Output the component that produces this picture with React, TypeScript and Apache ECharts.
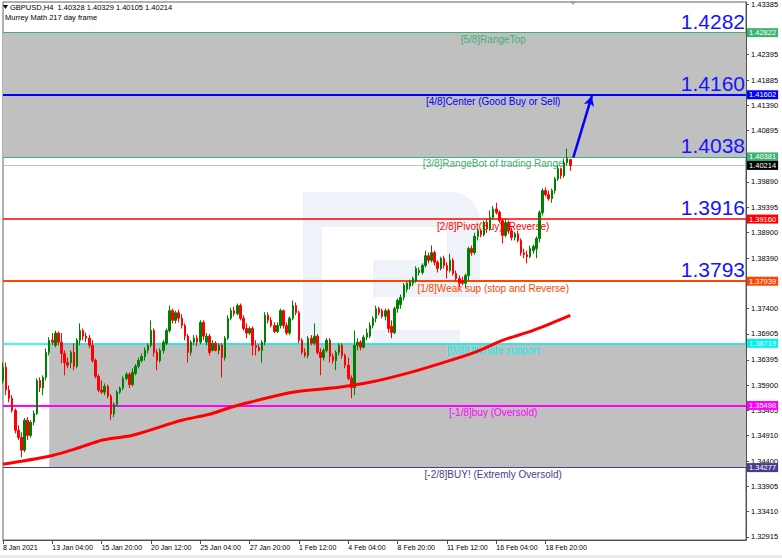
import React, { useEffect, useRef } from "react";
import * as echarts from "echarts";

const SYMBOL = "GBPUSD,H4";
const INDICATOR = "Murrey Math 217 day frame";
const FIRST_BAR_UTC = Date.UTC(2021, 0, 8, 12, 0);
const SLOT_COUNT = 242;
const LABEL_EVERY = 16;
const MONTHS = ["Jan", "Feb", "Mar", "Apr", "May", "Jun", "Jul", "Aug", "Sep", "Oct", "Nov", "Dec"];

// [open, close, low, high]
const ohlc: number[][] = [
  [1.3599, 1.3625, 1.3593, 1.3634], [1.3625, 1.3580, 1.3570, 1.3634], [1.3580, 1.3564, 1.3556, 1.3589],
  [1.3564, 1.3540, 1.3536, 1.3570], [1.3540, 1.3501, 1.3495, 1.3544], [1.3501, 1.3487, 1.3482, 1.3511],
  [1.3487, 1.3462, 1.3448, 1.3497], [1.3462, 1.3521, 1.3458, 1.3525], [1.3521, 1.3491, 1.3482, 1.3527],
  [1.3491, 1.3517, 1.3487, 1.3521], [1.3517, 1.3534, 1.3511, 1.3540], [1.3534, 1.3599, 1.3531, 1.3603],
  [1.3599, 1.3585, 1.3576, 1.3605], [1.3584, 1.3605, 1.3570, 1.3609], [1.3605, 1.3654, 1.3599, 1.3662],
  [1.3654, 1.3678, 1.3648, 1.3684], [1.3678, 1.3674, 1.3668, 1.3692], [1.3668, 1.3692, 1.3664, 1.3697],
  [1.3692, 1.3674, 1.3668, 1.3695], [1.3674, 1.3652, 1.3632, 1.3692], [1.3652, 1.3634, 1.3609, 1.3658],
  [1.3634, 1.3629, 1.3623, 1.3644], [1.3634, 1.3654, 1.3623, 1.3658], [1.3654, 1.3627, 1.3619, 1.3672],
  [1.3627, 1.3678, 1.3623, 1.3682], [1.3678, 1.3697, 1.3668, 1.3711], [1.3697, 1.3686, 1.3678, 1.3701],
  [1.3686, 1.3682, 1.3674, 1.3693], [1.3682, 1.3668, 1.3662, 1.3688], [1.3668, 1.3638, 1.3634, 1.3678],
  [1.3638, 1.3607, 1.3603, 1.3642], [1.3607, 1.3580, 1.3576, 1.3611], [1.3580, 1.3576, 1.3572, 1.3599],
  [1.3576, 1.3587, 1.3570, 1.3593], [1.3587, 1.3568, 1.3564, 1.3591], [1.3568, 1.3533, 1.3521, 1.3572],
  [1.3533, 1.3552, 1.3527, 1.3556], [1.3552, 1.3576, 1.3548, 1.3580], [1.3576, 1.3584, 1.3572, 1.3587],
  [1.3584, 1.3603, 1.3580, 1.3607], [1.3603, 1.3611, 1.3599, 1.3615], [1.3611, 1.3591, 1.3584, 1.3615],
  [1.3591, 1.3615, 1.3587, 1.3623], [1.3613, 1.3627, 1.3609, 1.3631], [1.3627, 1.3638, 1.3623, 1.3644],
  [1.3638, 1.3646, 1.3634, 1.3652], [1.3646, 1.3658, 1.3638, 1.3664], [1.3658, 1.3668, 1.3652, 1.3672],
  [1.3668, 1.3697, 1.3664, 1.3717], [1.3697, 1.3654, 1.3646, 1.3701], [1.3654, 1.3638, 1.3619, 1.3660],
  [1.3638, 1.3658, 1.3634, 1.3662], [1.3658, 1.3674, 1.3652, 1.3678], [1.3672, 1.3697, 1.3668, 1.3701],
  [1.3697, 1.3736, 1.3693, 1.3746], [1.3736, 1.3717, 1.3711, 1.3740], [1.3717, 1.3732, 1.3711, 1.3736],
  [1.3732, 1.3721, 1.3713, 1.3738], [1.3721, 1.3707, 1.3701, 1.3729], [1.3707, 1.3686, 1.3678, 1.3711],
  [1.3686, 1.3654, 1.3634, 1.3690], [1.3654, 1.3674, 1.3648, 1.3678], [1.3674, 1.3682, 1.3668, 1.3688],
  [1.3682, 1.3674, 1.3666, 1.3688], [1.3674, 1.3713, 1.3670, 1.3717], [1.3713, 1.3686, 1.3678, 1.3717],
  [1.3674, 1.3686, 1.3668, 1.3692], [1.3686, 1.3654, 1.3648, 1.3690], [1.3658, 1.3672, 1.3656, 1.3678],
  [1.3672, 1.3658, 1.3656, 1.3676], [1.3658, 1.3668, 1.3650, 1.3672], [1.3668, 1.3644, 1.3605, 1.3672],
  [1.3644, 1.3682, 1.3638, 1.3686], [1.3682, 1.3721, 1.3678, 1.3727], [1.3721, 1.3736, 1.3717, 1.3742],
  [1.3736, 1.3730, 1.3725, 1.3744], [1.3730, 1.3746, 1.3727, 1.3750], [1.3746, 1.3721, 1.3717, 1.3750],
  [1.3721, 1.3701, 1.3697, 1.3727], [1.3701, 1.3692, 1.3682, 1.3711], [1.3692, 1.3701, 1.3688, 1.3705],
  [1.3701, 1.3668, 1.3648, 1.3705], [1.3668, 1.3664, 1.3648, 1.3678], [1.3664, 1.3658, 1.3656, 1.3670],
  [1.3658, 1.3674, 1.3634, 1.3678], [1.3674, 1.3727, 1.3668, 1.3733], [1.3727, 1.3717, 1.3711, 1.3733],
  [1.3717, 1.3707, 1.3703, 1.3723], [1.3707, 1.3695, 1.3692, 1.3713], [1.3695, 1.3707, 1.3692, 1.3713],
  [1.3707, 1.3736, 1.3701, 1.3740], [1.3736, 1.3707, 1.3701, 1.3738], [1.3707, 1.3692, 1.3688, 1.3713],
  [1.3692, 1.3721, 1.3688, 1.3725], [1.3721, 1.3746, 1.3717, 1.3756], [1.3746, 1.3732, 1.3727, 1.3752],
  [1.3732, 1.3678, 1.3672, 1.3736], [1.3678, 1.3654, 1.3650, 1.3682], [1.3654, 1.3648, 1.3644, 1.3662],
  [1.3648, 1.3682, 1.3642, 1.3686], [1.3682, 1.3672, 1.3668, 1.3688], [1.3672, 1.3686, 1.3668, 1.3711],
  [1.3686, 1.3654, 1.3650, 1.3690], [1.3654, 1.3644, 1.3609, 1.3662], [1.3644, 1.3658, 1.3638, 1.3662],
  [1.3658, 1.3678, 1.3654, 1.3682], [1.3678, 1.3646, 1.3634, 1.3682], [1.3646, 1.3638, 1.3632, 1.3652],
  [1.3638, 1.3654, 1.3619, 1.3658], [1.3654, 1.3668, 1.3648, 1.3672], [1.3668, 1.3648, 1.3642, 1.3672],
  [1.3648, 1.3629, 1.3623, 1.3652], [1.3629, 1.3603, 1.3599, 1.3644], [1.3603, 1.3585, 1.3564, 1.3609],
  [1.3585, 1.3668, 1.3570, 1.3697], [1.3668, 1.3674, 1.3658, 1.3682], [1.3674, 1.3664, 1.3658, 1.3678],
  [1.3664, 1.3684, 1.3662, 1.3688], [1.3684, 1.3692, 1.3678, 1.3701], [1.3686, 1.3707, 1.3682, 1.3713],
  [1.3707, 1.3721, 1.3701, 1.3725], [1.3721, 1.3740, 1.3713, 1.3746], [1.3740, 1.3732, 1.3727, 1.3744],
  [1.3736, 1.3725, 1.3721, 1.3740], [1.3725, 1.3736, 1.3717, 1.3740], [1.3736, 1.3701, 1.3693, 1.3740],
  [1.3705, 1.3693, 1.3682, 1.3717], [1.3693, 1.3740, 1.3690, 1.3744], [1.3740, 1.3756, 1.3732, 1.3760],
  [1.3748, 1.3762, 1.3740, 1.3768], [1.3762, 1.3786, 1.3756, 1.3790], [1.3778, 1.3790, 1.3772, 1.3793],
  [1.3784, 1.3793, 1.3778, 1.3797], [1.3790, 1.3799, 1.3784, 1.3803], [1.3795, 1.3819, 1.3791, 1.3823],
  [1.3811, 1.3815, 1.3805, 1.3821], [1.3811, 1.3825, 1.3807, 1.3829], [1.3825, 1.3844, 1.3821, 1.3854],
  [1.3844, 1.3835, 1.3829, 1.3850], [1.3835, 1.3850, 1.3831, 1.3864], [1.3850, 1.3831, 1.3825, 1.3854],
  [1.3831, 1.3819, 1.3811, 1.3835], [1.3819, 1.3839, 1.3815, 1.3842], [1.3839, 1.3825, 1.3819, 1.3844],
  [1.3825, 1.3815, 1.3799, 1.3831], [1.3815, 1.3835, 1.3811, 1.3848], [1.3835, 1.3809, 1.3805, 1.3839],
  [1.3809, 1.3799, 1.3795, 1.3815], [1.3799, 1.3790, 1.3782, 1.3805], [1.3795, 1.3790, 1.3786, 1.3803],
  [1.3790, 1.3805, 1.3780, 1.3809], [1.3805, 1.3858, 1.3795, 1.3862], [1.3858, 1.3850, 1.3844, 1.3864],
  [1.3850, 1.3882, 1.3846, 1.3889], [1.3882, 1.3893, 1.3874, 1.3897], [1.3893, 1.3885, 1.3880, 1.3897],
  [1.3885, 1.3909, 1.3882, 1.3913], [1.3909, 1.3897, 1.3889, 1.3917], [1.3897, 1.3919, 1.3893, 1.3933],
  [1.3919, 1.3936, 1.3915, 1.3942], [1.3936, 1.3929, 1.3925, 1.3948], [1.3929, 1.3913, 1.3909, 1.3933],
  [1.3913, 1.3884, 1.3868, 1.3917], [1.3884, 1.3909, 1.3880, 1.3917], [1.3909, 1.3893, 1.3887, 1.3913],
  [1.3893, 1.3880, 1.3874, 1.3899], [1.3880, 1.3887, 1.3874, 1.3891], [1.3887, 1.3874, 1.3870, 1.3893],
  [1.3874, 1.3850, 1.3844, 1.3878], [1.3850, 1.3846, 1.3839, 1.3858], [1.3846, 1.3842, 1.3829, 1.3854],
  [1.3842, 1.3858, 1.3839, 1.3864], [1.3854, 1.3862, 1.3848, 1.3866], [1.3858, 1.3878, 1.3839, 1.3882],
  [1.3878, 1.3929, 1.3870, 1.3933], [1.3929, 1.3972, 1.3923, 1.3976], [1.3972, 1.3964, 1.3960, 1.3978],
  [1.3964, 1.3956, 1.3952, 1.3972], [1.3956, 1.3972, 1.3948, 1.3976], [1.3972, 1.3995, 1.3966, 1.3999],
  [1.3995, 1.4015, 1.3991, 1.4021], [1.4015, 1.4001, 1.3995, 1.4017], [1.4001, 1.4027, 1.3997, 1.4035],
  [1.4027, 1.4035, 1.4021, 1.4054], [1.40328, 1.40214, 1.40105, 1.40329],
];

// Moving average read at selected bars: bar index and value
const maBars = [0, 15, 21, 28, 32, 42, 58, 67, 74, 80, 94, 109, 119, 131, 142, 153, 162, 172, 184];
const maValues = [1.34345, 1.34502, 1.346, 1.34737, 1.34816, 1.34914, 1.35208, 1.35325, 1.35463, 1.35561,
  1.35757, 1.35855, 1.35953, 1.36129, 1.36326, 1.36541, 1.36777, 1.36973, 1.37267];

const murreyLevels = [1.42822, 1.41602, 1.40381, 1.3916, 1.37939, 1.36719, 1.35498, 1.34277];
const murreyNames = [
  "[5/8]RangeTop",
  "[4/8]Center (Good Buy or Sell)",
  "[3/8]RangeBot of trading Range",
  "[2/8]Pivot(Buy) (Reverse)",
  "[1/8]Weak sup (stop and Reverse)",
  "[0/8]Ultimate support",
  "[-1/8]buy (Oversold)",
  "[-2/8]BUY! (Extremly Oversold)",
];
const murreyColors = ["#3cb371", "#0000ff", "#3cb371", "#ff0000", "#ff4500", "#00f0f0", "#ff00ff", "#483d8b"];
const murreyWidths = [1, 2, 1, 1.5, 2, 1.5, 2, 1];
const bigLevelTexts = ["1.4282", "1.4160", "1.4038", "1.3916", "1.3793"];
const currentPrice = 1.40214;
const yTickValues = [1.43385, 1.42395, 1.41885, 1.4139, 1.40895, 1.3989, 1.39395, 1.389, 1.3839, 1.374,
  1.36905, 1.36395, 1.359, 1.35405, 1.3491, 1.344, 1.33905, 1.3341, 1.32915];
const yMin = 1.32855;
const yMax = 1.43424;
const upperBand = [1.42822, 1.40381];
const lowerBand = [1.36719, 1.34277];
const lowerBandStartBar = 15;
const levelTextBar = 159;
const arrowStart = { bar: 185, price: 1.4037 };
const arrowEnd = { bar: 191, price: 1.4158 };

const FONT = "'Liberation Sans', Arial, Helvetica, sans-serif";

const pad2 = (n: number) => String(n).padStart(2, "0");

function buildBarTimes(n: number): Date[] {
  const out: Date[] = [];
  let t = FIRST_BAR_UTC;
  while (out.length < n) {
    const d = new Date(t);
    const wd = d.getUTCDay();
    if (wd !== 0 && wd !== 6) out.push(d);
    t += 4 * 3600 * 1000;
  }
  return out;
}

export default function App() {
  const ref = useRef<HTMLDivElement>(null);

  useEffect(() => {
    if (!ref.current) return;
    const chart = echarts.init(ref.current, null, { renderer: "svg" });

    const times = buildBarTimes(SLOT_COUNT);
    const categories = times.map(
      (d) => `${d.getUTCDate()} ${MONTHS[d.getUTCMonth()]} ${pad2(d.getUTCHours())}:${pad2(d.getUTCMinutes())}`
    );
    const firstLabel = `${times[0].getUTCDate()} ${MONTHS[times[0].getUTCMonth()]} ${times[0].getUTCFullYear()}`;
    const showTick = (i: number) => i % LABEL_EVERY === 0 && i < ohlc.length;

    const last = ohlc[ohlc.length - 1];
    const header = `${SYMBOL}  ${last[0].toFixed(5)} ${last[3].toFixed(5)} ${last[2].toFixed(5)} ${last[1].toFixed(5)}`;

    const boxLabel = (text: string, bg: string) => ({
      show: true,
      position: "end",
      distance: 1,
      formatter: text,
      backgroundColor: bg,
      color: "#ffffff",
      fontSize: 7.5,
      lineHeight: 8,
      fontFamily: FONT,
      padding: [1, 2, 0, 2],
    });

    const levelLines: any[] = murreyLevels.map((v, k) => ({
      yAxis: v,
      lineStyle: { color: murreyColors[k], width: murreyWidths[k], type: "solid" },
      label: boxLabel(v.toFixed(5), murreyColors[k]),
    }));
    levelLines.push({
      yAxis: currentPrice,
      lineStyle: { color: "#c0c0c0", width: 1, type: "solid" },
      label: boxLabel(currentPrice.toFixed(5), "#000000"),
    });

    const bigLabels: any[] = bigLevelTexts.map((s, k) => ({
      yAxis: murreyLevels[k],
      lineStyle: { color: "rgba(0,0,0,0)", width: 1 },
      label: {
        show: true,
        position: "insideEndTop",
        distance: 1,
        formatter: s,
        color: "#1414ff",
        fontSize: 21,
        lineHeight: 21,
        fontFamily: FONT,
      },
    }));

    const arrow: any = [
      { coord: [categories[arrowStart.bar], arrowStart.price], symbol: "none" },
      { coord: [categories[arrowEnd.bar], arrowEnd.price], symbol: "arrow", symbolSize: [8, 10] },
    ];

    const levelTexts = murreyNames.map((name, k) => ({
      coord: [categories[levelTextBar], murreyLevels[k]],
      symbol: "rect",
      symbolSize: 0,
      label: {
        show: true,
        position: "inside",
        offset: [0, 7],
        formatter: name,
        color: murreyColors[k],
        fontSize: 10,
        fontFamily: FONT,
      },
    }));

    const wm = "rgba(50, 85, 160, 0.08)";

    const option: any = {
      animation: false,
      backgroundColor: "#ffffff",
      grid: {
        left: 1,
        right: 36,
        top: 1,
        bottom: 18,
        show: true,
        borderColor: "#606060",
        borderWidth: 1,
        backgroundColor: "#ffffff",
      },
      xAxis: {
        type: "category",
        data: categories,
        boundaryGap: false,
        axisLine: { show: true, lineStyle: { color: "#505050", width: 1 } },
        axisTick: { show: true, interval: showTick, length: 4, lineStyle: { color: "#505050" } },
        axisLabel: {
          interval: showTick,
          align: "left",
          margin: 4,
          fontSize: 7,
          color: "#000000",
          fontFamily: FONT,
          formatter: (v: string, i: number) => (i === 0 ? firstLabel : v),
        },
        splitLine: { show: false },
      },
      yAxis: {
        type: "value",
        position: "right",
        min: yMin,
        max: yMax,
        axisLine: { show: true, lineStyle: { color: "#505050", width: 1 } },
        axisTick: { show: true, length: 3, customValues: yTickValues, lineStyle: { color: "#505050" } },
        axisLabel: {
          customValues: yTickValues,
          formatter: (v: number) => v.toFixed(5),
          fontSize: 7.5,
          margin: 5,
          color: "#000000",
          fontFamily: FONT,
        },
        splitLine: { show: false },
      },
      series: [
        {
          type: "candlestick",
          name: SYMBOL,
          data: ohlc,
          barWidth: 2,
          z: 2,
          itemStyle: {
            color: "#008000",
            color0: "#ff0000",
            borderColor: "#008000",
            borderColor0: "#ff0000",
            borderWidth: 1,
          },
          markArea: {
            silent: true,
            z: 1,
            itemStyle: { color: "#c0c0c0", opacity: 1 },
            data: [
              [{ yAxis: upperBand[0] }, { yAxis: upperBand[1] }],
              [
                { xAxis: categories[lowerBandStartBar], yAxis: lowerBand[0] },
                { xAxis: categories[SLOT_COUNT - 1], yAxis: lowerBand[1] },
              ],
            ],
          },
          markLine: {
            silent: true,
            z: 1.5,
            precision: 5,
            symbol: ["none", "none"],
            data: levelLines,
          },
          markPoint: {
            silent: true,
            z: 1.6,
            data: levelTexts,
          },
        },
        {
          type: "line",
          name: "MA",
          data: maBars.map((b, k) => [b, maValues[k]]),
          smooth: 0.3,
          symbol: "none",
          z: 3,
          lineStyle: { color: "#ff0000", width: 3 },
          markLine: {
            silent: true,
            z: 5,
            precision: 5,
            symbol: ["none", "none"],
            data: [...bigLabels, arrow],
            lineStyle: { color: "#0000ff", width: 2.5, type: "solid" },
            label: { show: false },
          },
        },
      ],
      graphic: [
        {
          type: "group",
          silent: true,
          z: 1,
          children: [
            { type: "rect", z: 1, shape: { x: 303, y: 192, width: 19, height: 175 }, style: { fill: wm } },
            { type: "rect", z: 1, shape: { x: 322, y: 192, width: 125, height: 35 }, style: { fill: wm } },
            { type: "rect", z: 1, shape: { x: 447, y: 192, width: 33, height: 105, r: [0, 30, 0, 0] }, style: { fill: wm } },
            { type: "rect", z: 1, shape: { x: 373, y: 260, width: 74, height: 37 }, style: { fill: wm } },
            { type: "rect", z: 1, shape: { x: 373, y: 330, width: 87, height: 37 }, style: { fill: wm } },
          ],
        },
        {
          type: "polygon",
          silent: true,
          z: 10,
          shape: { points: [[3, 5], [8, 5], [5.5, 9]] },
          style: { fill: "#000000" },
        },
        {
          type: "polygon",
          silent: true,
          z: 10,
          shape: { points: [[570, 1], [576, 1], [573, 5]] },
          style: { fill: "#a0a0a0" },
        },
        {
          type: "text",
          silent: true,
          z: 10,
          x: 10,
          y: 7,
          style: { text: header, fill: "#000000", fontSize: 7.5, fontFamily: FONT, verticalAlign: "middle" },
        },
        {
          type: "text",
          silent: true,
          z: 10,
          x: 5,
          y: 17,
          style: { text: INDICATOR, fill: "#000000", fontSize: 7.5, fontFamily: FONT, verticalAlign: "middle" },
        },
        {
          type: "rect",
          silent: true,
          z: 10,
          shape: { x: 0, y: 555, width: 782, height: 3 },
          style: { fill: "#ececec" },
        },
      ],
    };

    chart.setOption(option);
    return () => chart.dispose();
  }, []);

  return (
    <div
      ref={ref}
      style={{ position: "fixed", left: 0, top: 0, width: 782, height: 558, background: "#ffffff" }}
    />
  );
}
